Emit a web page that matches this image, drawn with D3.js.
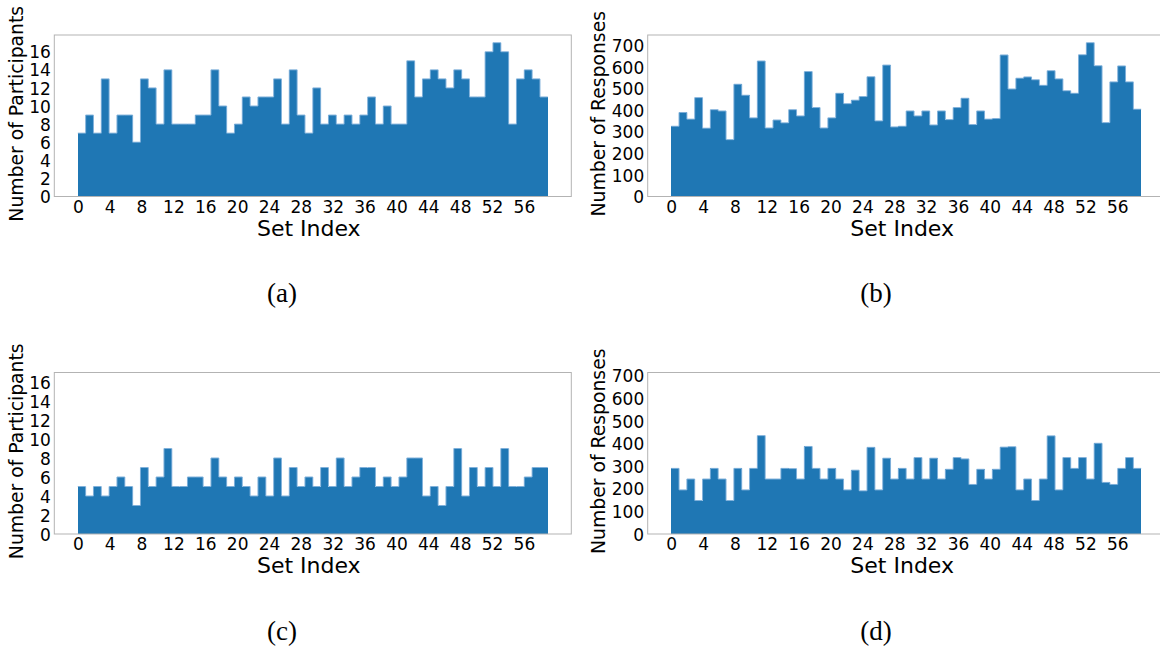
<!DOCTYPE html>
<html>
<head>
<meta charset="utf-8">
<script src="https://cdn.jsdelivr.net/npm/d3@7"></script>
<style>
  body { margin: 0; background: #fff; }
  svg { display: block; }
</style>
</head>
<body>
<div id="chart"></div>
<script>
// participants per set (all sets)
var participantsAll = [7,9,7,13,7,9,9,6,13,12,8,14,8,8,8,9,9,14,10,7,8,11,10,11,11,13,8,14,9,7,
                       12,8,9,8,9,8,9,11,8,10,8,8,15,11,13,14,13,12,14,13,11,11,16,17,16,8,13,14,13,11];
// responses per set (all sets)
var responsesAll = [326,390,359,459,317,403,397,264,521,470,365,629,318,355,342,403,374,580,413,318,
                    365,479,431,447,464,556,351,610,323,326,397,374,397,332,397,357,413,456,334,397,
                    359,362,657,499,549,555,542,516,584,546,491,479,658,714,607,343,532,606,532,405];
// participants per set (subset)
var participantsSub = [5,4,5,4,5,6,5,3,7,5,6,9,5,5,6,6,5,8,6,5,6,5,4,6,4,8,4,7,5,6,
                       5,7,5,8,5,6,7,7,5,6,5,6,8,8,4,5,3,5,9,4,7,5,7,5,9,5,5,6,7,7];
// responses per set (subset)
var responsesSub = [290,195,243,148,243,290,243,148,290,195,290,435,243,243,290,289,243,387,290,243,
                    290,243,195,282,191,383,195,335,243,290,243,338,243,335,243,286,338,332,219,286,
                    243,286,384,386,195,243,148,243,434,195,338,290,338,243,401,228,219,290,338,290];

var xTicks = d3.range(0, 57, 4);
var participantTicks = d3.range(0, 17, 2);
var responseTicks = d3.range(0, 701, 100);
var captions = ["(a)", "(b)", "(c)", "(d)"];

var W = 1160, H = 652;
var pw = 517, ph = 161.5;
var barColor = "#1f77b4";

var svg = d3.select("#chart").append("svg")
    .attr("width", W)
    .attr("height", H);

function drawPanel(values, left, top, yMax, yTicks, yLabel, labelX, caption, capX, capY) {
    var nBins = values.length;
    var span = nBins - 1; // histogram over [0, 59]
    var binW = span / nBins;

    var x = d3.scaleLinear().domain([-span * 0.05, span * 1.05]).range([0, pw]);
    var y = d3.scaleLinear().domain([0, yMax]).range([ph, 0]);

    var g = svg.append("g").attr("transform", "translate(" + left + "," + top + ")");

    g.selectAll(".bar")
        .data(values)
        .enter().append("rect")
        .attr("class", "bar")
        .attr("x", function(d, i) { return x(i * binW); })
        .attr("width", function(d, i) { return x((i + 1) * binW) - x(i * binW); })
        .attr("y", function(d) { return y(d); })
        .attr("height", function(d) { return ph - y(d); })
        .attr("shape-rendering", "crispEdges")
        .style("fill", barColor);

    // light outline along the top of the bars
    var steps = values.map(function(d, i) { return [i * binW, d]; });
    steps.push([span, values[nBins - 1]]);
    var outline = d3.line()
        .x(function(p) { return x(p[0]); })
        .y(function(p) { return y(p[1]); })
        .curve(d3.curveStepAfter);
    g.append("path")
        .attr("d", outline(steps))
        .style("fill", "none")
        .style("stroke", "#7fb0da")
        .style("stroke-width", 1);

    // frame
    g.append("rect")
        .attr("width", pw)
        .attr("height", ph)
        .style("fill", "none")
        .style("stroke", "#b3b3b3")
        .style("stroke-width", 1);

    var xAxis = g.append("g")
        .attr("transform", "translate(0," + ph + ")")
        .call(d3.axisBottom(x).tickValues(xTicks).tickSize(0).tickPadding(4));
    var yAxis = g.append("g")
        .call(d3.axisLeft(y).tickValues(yTicks).tickSize(0).tickPadding(3.5));

    [xAxis, yAxis].forEach(function(a) {
        a.select(".domain").remove();
        a.selectAll("text")
            .style("font-family", "'DejaVu Sans', sans-serif")
            .style("font-size", "17px")
            .style("fill", "#000");
    });
    yAxis.selectAll("text").attr("dy", "0.36em");

    g.append("text")
        .attr("x", pw / 2 - 4)
        .attr("y", ph + 39)
        .attr("text-anchor", "middle")
        .style("font-family", "'DejaVu Sans', sans-serif")
        .style("font-size", "22px")
        .text("Set Index");

    g.append("text")
        .attr("transform", "translate(" + labelX + "," + (ph / 2 - 2) + ") rotate(-90)")
        .attr("text-anchor", "middle")
        .attr("dy", "0.35em")
        .style("font-family", "'DejaVu Sans', sans-serif")
        .style("font-size", "18.8px")
        .text(yLabel);

    svg.append("text")
        .attr("x", capX)
        .attr("y", capY)
        .attr("text-anchor", "middle")
        .attr("dy", "0.35em")
        .style("font-family", "'Liberation Serif', 'DejaVu Serif', serif")
        .style("font-size", "27px")
        .text(caption);
}

var maxA = d3.max(participantsAll);
var maxB = d3.max(responsesAll);

drawPanel(participantsAll, 54.3, 35, maxA * 1.05, participantTicks, "Number of Participants", -38, captions[0], 282, 293);
drawPanel(responsesAll, 647.7, 35, maxB * 1.05, responseTicks, "Number of Responses", -49, captions[1], 876, 293);
drawPanel(participantsSub, 54.3, 372.5, maxA, participantTicks, "Number of Participants", -38, captions[2], 282, 631);
drawPanel(responsesSub, 647.7, 372.5, maxB, responseTicks, "Number of Responses", -49, captions[3], 876, 631);
</script>
</body>
</html>
